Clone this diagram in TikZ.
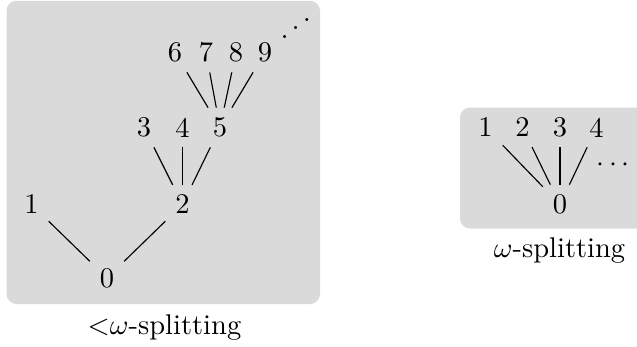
\documentclass[tikz,border=0pt]{standalone}
\definecolor{panelgray}{RGB}{218,218,218}
\tikzset{
  panel/.style={fill=panelgray, rounded corners=3.5pt},
  vtx/.style={inner sep=3.33pt},
  edge/.style={draw=black, line width=0.4pt},
  caption/.style={inner sep=0pt, anchor=base}
}
\begin{document}
\begin{tikzpicture}[x=0.3509pt, y=-0.3509pt]
  \clip (0,0) rectangle (637,346);

  % panels
  \path[panel] (6.5,0.8) rectangle (320,304);
  \path[panel] (460,107.5) rectangle (660,228.5);

  % <omega-splitting tree
  \node[vtx] (a0) at (107,278) {0};
  \node[vtx] (a1) at (31.5,204.5) {1};
  \node[vtx] (a2) at (182.5,204.5) {2};
  \node[vtx] (a3) at (144,127.5) {3};
  \node[vtx] (a4) at (182.5,127.5) {4};
  \node[vtx] (a5) at (220,127.5) {5};
  \node[vtx] (a6) at (175,52.5) {6};
  \node[vtx] (a7) at (206,52.5) {7};
  \node[vtx] (a8) at (236,52.5) {8};
  \node[vtx] (a9) at (265,52.5) {9};
  \node[inner sep=0pt, anchor=base] (adots) at (295.7,41.3) {\reflectbox{$\ddots$}};

  \draw[edge] (a0) -- (a1);
  \draw[edge] (a0) -- (a2);
  \draw[edge] (a2) -- (a3);
  \draw[edge] (a2) -- (a4);
  \draw[edge] (a2) -- (a5);
  \draw[edge] (a5) -- (a6);
  \draw[edge] (a5) -- (a7);
  \draw[edge] (a5) -- (a8);
  \draw[edge] (a5) -- (a9);

  \node[caption] (acap) at (164.5,334.5) {${<}\omega$-splitting};

  % omega-splitting tree
  \node[vtx] (b0) at (560,204.5) {0};
  \node[vtx] (b1) at (485.5,127.5) {1};
  \node[vtx] (b2) at (522.5,127.5) {2};
  \node[vtx] (b3) at (560,127.5) {3};
  \node[vtx] (b4) at (596.5,127.5) {4};
  \node[inner sep=0pt, anchor=base] (bdots) at (613,171) {$\cdots$};

  \draw[edge] (b0) -- (b1);
  \draw[edge] (b0) -- (b2);
  \draw[edge] (b0) -- (b3);
  \draw[edge] (b0) -- (b4);

  \node[caption] (bcap) at (559.5,257) {$\omega$-splitting};
\end{tikzpicture}
\end{document}
